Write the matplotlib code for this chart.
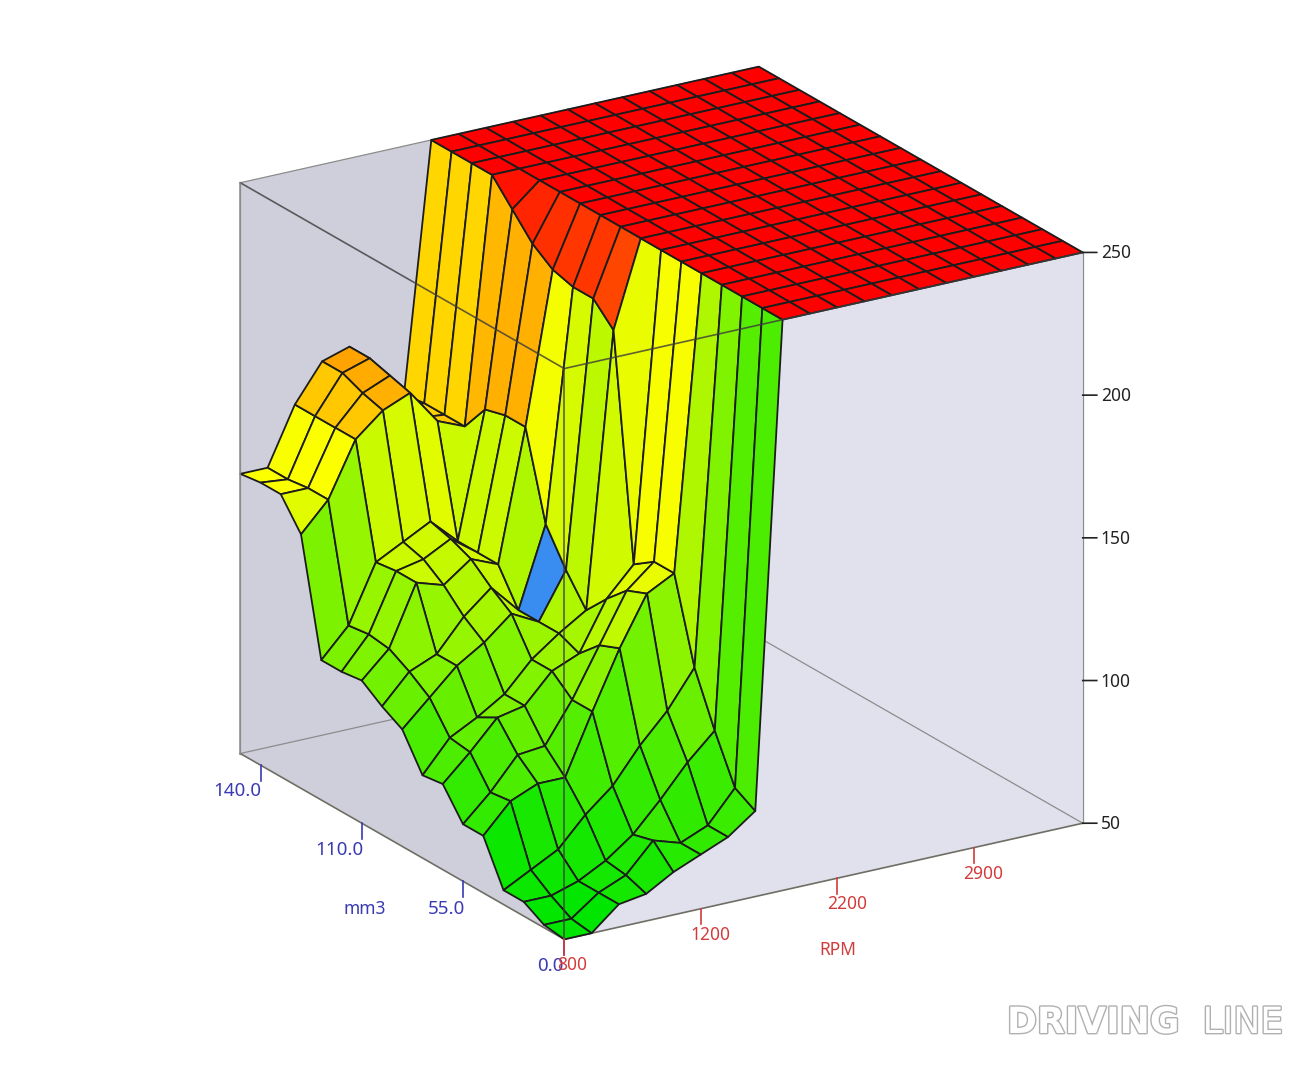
import numpy as np
import matplotlib
matplotlib.use('Agg')
import matplotlib.pyplot as plt
import matplotlib.patheffects as pe
from matplotlib.colors import LinearSegmentedColormap, Normalize, to_rgba
from mpl_toolkits.mplot3d import proj3d
from mpl_toolkits.mplot3d.art3d import Poly3DCollection

# axis labels, the table axes are index based so the ticks sit every 5 cells
rpm_ticks = [0, 5, 10, 15]
rpm_labels = ['800', '1200', '2200', '2900']
mm3_ticks = [0, 5, 10, 15]
mm3_labels = ['0.0', '55.0', '110.0', '140.0']
z_ticks = [50, 100, 150, 200, 250]

# one row per mm3 bin (front to back), one value per RPM bin (left to right)
row00 = [50, 50, 58, 59.5, 65, 69, 73, 80, 250, 250, 250, 250, 250, 250, 250, 250, 250, 250, 250, 250]
row01 = [51, 51, 58, 62, 72, 69, 73, 84, 250, 250, 250, 250, 250, 250, 250, 250, 250, 250, 250, 250]
row02 = [55, 55, 58, 63, 70, 80, 91, 100, 250, 250, 250, 250, 250, 250, 250, 250, 250, 250, 250, 250]
row03 = [55, 60, 65, 75, 83, 95, 105, 118, 250, 250, 250, 250, 250, 250, 250, 250, 250, 250, 250, 250]
row04 = [70, 80, 84, 84, 105, 125, 142, 147, 250, 250, 250, 250, 250, 250, 250, 250, 250, 250, 250, 250]
row05 = [70, 79, 90, 91, 105, 122, 139, 147, 250, 250, 250, 250, 250, 250, 250, 250, 250, 250, 250, 250]
row06 = [80, 89, 99, 101, 111, 115, 132, 142, 250, 250, 250, 250, 250, 250, 250, 250, 250, 250, 250, 250]
row07 = [79, 90, 95, 101, 111, 118, 124, 220, 250, 250, 250, 250, 250, 250, 250, 250, 250, 250, 250, 250]
row08 = [91, 100, 109, 115, 123, 118, 134, 227, 250, 250, 250, 250, 250, 250, 250, 250, 250, 250, 250, 250]
row09 = [95, 105, 109, 120, 128, 118, 146, 227, 250, 250, 250, 250, 250, 250, 250, 250, 250, 250, 250, 250]
row10 = [100, 109, 130, 127, 134, 130, 176, 229, 250, 250, 250, 250, 250, 250, 250, 250, 250, 250, 250, 250]
row11 = [99, 110, 130, 132, 137, 130, 176, 234, 250, 250, 250, 250, 250, 250, 250, 250, 250, 250, 250, 250]
row12 = [99, 109, 129, 134, 139, 130, 174, 242, 250, 250, 250, 250, 250, 250, 250, 250, 250, 250, 250, 250]
row13 = [139, 149, 168, 176, 180, 168, 164, 250, 250, 250, 250, 250, 250, 250, 250, 250, 250, 250, 250, 250]
row14 = [149, 149, 168, 178, 182, 165, 164, 250, 250, 250, 250, 250, 250, 250, 250, 250, 250, 250, 250, 250]
row15 = [149, 148, 168, 181, 184, 163, 164, 250, 250, 250, 250, 250, 250, 250, 250, 250, 250, 250, 250, 250]
row16 = [148, 148, 168, 181, 184, 160, 163, 250, 250, 250, 250, 250, 250, 250, 250, 250, 250, 250, 250, 250]

Z = np.array([row00, row01, row02, row03, row04, row05, row06, row07, row08,
              row09, row10, row11, row12, row13, row14, row15, row16], dtype=float)

W, H = 1310, 1080
fig = plt.figure(figsize=(W / 100, H / 100), dpi=100, facecolor='white')
plt.rcParams['font.family'] = ['Noto Sans', 'DejaVu Sans']

# square axes placed so the centre of the cube lands where it is in the picture
side = 1000
left = 661.5 - 0.5135 * side
bottom = (H - 503) - 0.5135 * side
ax = fig.add_axes([left / W, bottom / H, side / W, side / H], projection='3d',
                  proj_type='ortho', computed_zorder=False)
ax.set_axis_off()
ax.patch.set_alpha(0)
ax.set_box_aspect((1, 1, 1), zoom=1.028)
ax.view_init(elev=21, azim=-122)

x0, x1 = 0, Z.shape[1] - 1
y0, y1 = 0, Z.shape[0] - 1
z0, z1 = 50, 250
ax.set_xlim(x0, x1, view_margin=0)
ax.set_ylim(y0, y1, view_margin=0)
ax.set_zlim(z0, z1, view_margin=0)

# walls and floor
grey = '#cfcfdc'
lav = '#e1e1ee'
split = 11.9
walls = [([(x0, y1, z0), (x1, y1, z0), (x1, y1, z1), (x0, y1, z1)], grey),
         ([(x1, y0, z0), (x1, y1, z0), (x1, y1, z1), (x1, y0, z1)], lav),
         ([(x0, y0, z0), (x1, y0, z0), (x1, y1, z0), (split, y1, z0)], lav),
         ([(x0, y0, z0), (split, y1, z0), (x0, y1, z0)], grey)]
for verts, col in walls:
    ax.add_collection3d(Poly3DCollection([verts], facecolors=col, edgecolors='none', zorder=1))

# back edges of the box
edge = '#8c8c8c'
back_edges = [((x0, x1), (y1, y1), (z1, z1)), ((x1, x1), (y1, y0), (z1, z1)),
              ((x0, x1), (y1, y1), (z0, z0)), ((x1, x1), (y1, y0), (z0, z0)),
              ((x0, x0), (y1, y1), (z0, z1)), ((x1, x1), (y0, y0), (z0, z1)),
              ((x1, x1), (y1, y1), (z0, z1))]
for xs, ys, zs in back_edges:
    ax.plot(xs, ys, zs, color=edge, lw=0.9, zorder=2)
ax.plot((x0, x0), (y1, y0), (z0, z0), color='#6e6e64', lw=1.2, zorder=2)
ax.plot((x0, x1), (y0, y0), (z0, z0), color='#6e6e64', lw=1.2, zorder=2)

# each cell takes its colour from its corner nearest the origin
cmap = LinearSegmentedColormap.from_list('map', [(0, '#00e600'), (0.5, '#ffff00'), (0.65, '#ffa500'), (1, '#ff0000')])
norm = Normalize(z0, z1)
cell_cols = cmap(norm(Z[:-1, :-1]))
blue_cell = (8, 5)
cell_cols[blue_cell] = to_rgba('#3a8df0')

X, Y = np.meshgrid(np.arange(Z.shape[1]), np.arange(Z.shape[0]))
surf = ax.plot_surface(X, Y, Z, rstride=1, cstride=1, facecolors=cell_cols, shade=False, zorder=3)
surf.set_edgecolor('#1c1c1c')
surf.set_linewidth(1.3)

# front edges of the box lie over the surface
for xs, ys, zs in [((x0, x0), (y1, y0), (z1, z1)), ((x0, x1), (y0, y0), (z1, z1)), ((x0, x0), (y0, y0), (z0, z1))]:
    ax.plot(xs, ys, zs, color='#3c3c3c', alpha=0.8, lw=1.2, zorder=4)
ax.plot((x0, x0), (y1, y1), (z0, z1), color=edge, lw=1.1, zorder=4)


def put_label(x, y, z, text, dx, dy, color, ha='center', size=12.5):
    px, py, _ = proj3d.proj_transform(x, y, z, ax.get_proj())
    ax.annotate(text, (px, py), xytext=(dx, dy), textcoords='offset pixels', color=color,
                ha=ha, va='center', fontsize=size, annotation_clip=False, zorder=6)


blue = '#3a3ab4'
red = '#d23c3c'
tick_drop = 5.5

for t, lab, dx, dy in zip(mm3_ticks, mm3_labels, [-14, -17, -22, -23], [-27, -28, -27, -26]):
    ax.plot((x0, x0), (t, t), (z0, z0 - tick_drop), color=blue, lw=1.2, zorder=5)
    put_label(x0, t, z0, lab, dx, dy, blue, size=13.5)
for t, lab, dx in zip(rpm_ticks, rpm_labels, [8, 10, 10, 10]):
    ax.plot((t, t), (y0, y0), (z0, z0 - tick_drop), color=red, lw=1.2, zorder=5)
    put_label(t, y0, z0, lab, dx, -26, red)
for t in z_ticks:
    ax.plot((x1, x1 + 0.37), (y0, y0 - 0.193), (t, t), color='#222222', lw=1.2, zorder=5)
    put_label(x1, y0, t, str(t), 18, -1, '#222222', ha='left')

fig.text(365 / W, 1 - 909 / H, 'mm3', color=blue, fontsize=12.5, ha='center', va='center')
fig.text(838 / W, 1 - 950 / H, 'RPM', color=red, fontsize=12.5, ha='center', va='center')

# watermark
stroke = [pe.withStroke(linewidth=2, foreground='#b0b0b0')]
fig.text(1007 / W, 1 - 1023 / H, 'DRIVING', color='white', fontsize=26, fontweight='bold',
         family='DejaVu Sans', ha='left', va='center', path_effects=stroke)
fig.text(1283 / W, 1 - 1023 / H, 'LINE', color='white', fontsize=26,
         family='DejaVu Sans', ha='right', va='center', path_effects=stroke)

fig.savefig('out.png', dpi=100, facecolor='white')
